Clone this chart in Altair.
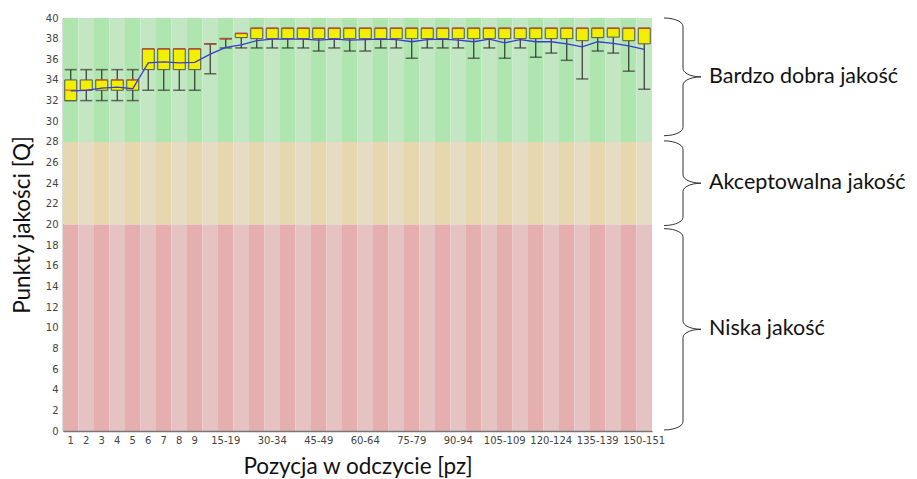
import altair as alt
import pandas as pd
import numpy as np

# ---- data ----
positions = ["1", "2", "3", "4", "5", "6", "7", "8", "9",
             "10-14", "15-19", "20-24", "25-29", "30-34", "35-39", "40-44",
             "45-49", "50-54", "55-59", "60-64", "65-69", "70-74", "75-79",
             "80-84", "85-89", "90-94", "95-99", "100-104", "105-109",
             "110-114", "115-119", "120-124", "125-129", "130-134",
             "135-139", "140-144", "145-149", "150-151"]
shown_labels = ["1", "2", "3", "4", "5", "6", "7", "8", "9", "15-19", "30-34",
                "45-49", "60-64", "75-79", "90-94", "105-109", "120-124",
                "135-139", "150-151"]
y_ticks = [0, 2, 4, 6, 8, 10, 12, 14, 16, 18, 20, 22, 24, 26, 28, 30, 32, 34,
           36, 38, 40]

q1 = [32, 33, 33, 33, 33, 35, 35, 35, 35, 37.5, 38, 38.1,
      38, 38, 38, 38, 38, 38, 38, 38, 38, 38, 38, 38, 38, 38, 38, 38, 38,
      38, 38, 38, 38, 37.8, 38.1, 38.15, 37.8, 37.5]
q3 = [34, 34, 34, 34, 34, 37, 37, 37, 37, 37.5, 38, 38.5,
      39, 39, 39, 39, 39, 39, 39, 39, 39, 39, 39, 39, 39, 39, 39, 39, 39,
      39, 39, 39, 39, 39, 39, 39, 39, 39]
median = [33, 33, 34, 34, 34, 37, 37, 37, 37, 37.5, 38, 38.5,
          39, 39, 39, 39, 39, 39, 39, 39, 39, 39, 39, 39, 39, 39, 39, 39, 39,
          39, 39, 39, 39, 39, 39, 39, 39, 39]
p10 = [32, 32, 32, 32, 32, 33, 33, 33, 33, 34.6, 37.1, 37.1,
       37.1, 37.1, 37.1, 37.1, 36.8, 37.1, 36.8, 36.8, 37.1, 37.1, 36.1,
       37.1, 37.1, 37.1, 36.1, 37.1, 36.1, 37.1, 36.2, 36.6, 35.9, 34.1,
       36.8, 36.6, 34.85, 33.1]
p90 = [35, 35, 35, 35, 35, 37, 37, 37, 37, 37.5, 38, 38.5,
       39, 39, 39, 39, 39, 39, 39, 39, 39, 39, 39, 39, 39, 39, 39, 39, 39,
       39, 39, 39, 39, 39, 39, 39, 39, 39]
mean = [32.95, 33.0, 33.2, 33.3, 33.15, 35.65, 35.75, 35.65, 35.7, 36.5,
        37.15, 37.4, 37.8, 37.95, 37.95, 37.95, 37.85, 37.95, 37.85, 37.9,
        37.95, 37.9, 37.7, 37.9, 37.95, 37.85, 37.7, 37.95, 37.6, 37.9,
        37.7, 37.7, 37.5, 37.2, 37.7, 37.55, 37.3, 36.95]

zone_names = ["good", "bad", "ugly"]
zone_low = [28, 20, 0]
zone_high = [40, 28, 20]
zone_colors = {"good_dark": "#AFE6AF", "good_light": "#C3E6C3",
               "bad_dark": "#E6D7AF", "bad_light": "#E6DCC3",
               "ugly_dark": "#E6AFAF", "ugly_light": "#E6C3C3"}

brace_labels = ["Bardzo dobra jakość", "Akceptowalna jakość", "Niska jakość"]
brace_top = [40, 28.1, 19.6]
brace_bottom = [28.6, 19.9, 0.1]

# ---- tables ----
stats = pd.DataFrame({"pos": positions, "q1": q1, "q3": q3, "median": median,
                      "p10": p10, "p90": p90, "mean": mean})

bg_rows = []
for i, p in enumerate(positions):
    for z, lo, hi in zip(zone_names, zone_low, zone_high):
        bg_rows.append({"pos": p, "lo": lo, "hi": hi,
                        "key": z + ("_dark" if i % 2 == 0 else "_light")})
bg = pd.DataFrame(bg_rows)

# brace outlines (pixel x, data y)
X0, X1, X2 = 601, 620, 638
RY = 0.8
brace_rows = []
t = np.linspace(0, np.pi / 2, 8)
for b, (top, bot) in enumerate(zip(brace_top, brace_bottom)):
    mid = (top + bot) / 2
    pts = []
    pts += [(X0 + (X1 - X0) * np.sin(a), top - RY * (1 - np.cos(a))) for a in t]
    pts += [(X1 + (X2 - X1) * (1 - np.cos(a)), mid + RY * (1 - np.sin(a))) for a in t]
    pts += [(X1 + (X2 - X1) * (1 - np.cos(a)), mid - RY * (1 - np.sin(a))) for a in t[::-1]]
    pts += [(X0 + (X1 - X0) * np.sin(a), bot + RY * (1 - np.cos(a))) for a in t[::-1]]
    for k, (px, py) in enumerate(pts):
        brace_rows.append({"bid": b, "seq": k, "px": px, "py": py})
braces = pd.DataFrame(brace_rows)

label_df = pd.DataFrame({"label": brace_labels,
                         "y": [(a + b) / 2 for a, b in zip(brace_top, brace_bottom)],
                         "px": [646] * 3})

# ---- chart ----
xscale = alt.Scale(domain=positions, paddingInner=0, paddingOuter=0)
yscale = alt.Scale(domain=[0, 40], nice=False)

xaxis = alt.Axis(values=shown_labels, labelAngle=0, ticks=False,
                 labelOverlap=False,
                 labelFont="DejaVu Sans", labelFontSize=10,
                 labelColor="#444", labelPadding=4,
                 domainColor="#777", domainWidth=1.5,
                 title="Pozycja w odczycie [pz]", titleFont="Lato",
                 titleFontSize=22.5, titleFontWeight="normal",
                 titleColor="#111", titlePadding=10)
yaxis = alt.Axis(values=y_ticks, tickCount=21, ticks=False, grid=False,
                 labelOverlap=False,
                 labelFont="DejaVu Sans", labelFontSize=10,
                 labelColor="#444", labelPadding=5,
                 domainColor="#777", domainWidth=1.5,
                 title="Punkty jakości [Q]", titleFont="Lato",
                 titleFontSize=22.5, titleFontWeight="normal",
                 titleColor="#111", titlePadding=11)


def X():
    return alt.X("pos:N", scale=xscale, sort=positions, axis=xaxis)


def Y(field):
    return alt.Y(field, scale=yscale, axis=yaxis)


background = alt.Chart(bg).mark_rect().encode(
    x=X(),
    y=Y("lo:Q"),
    y2="hi:Q",
    color=alt.Color("key:N", scale=alt.Scale(domain=list(zone_colors.keys()),
                                             range=list(zone_colors.values())),
                    legend=None),
)

base = alt.Chart(stats)
whisker = base.mark_rule(color="#333", strokeWidth=1.2).encode(
    x=X(), y=Y("p10:Q"), y2="p90:Q")
cap_low = base.mark_tick(color="#333", size=12, thickness=1.5).encode(
    x=X(), y=Y("p10:Q"))
cap_high = base.mark_tick(color="#333", size=12, thickness=1.5).encode(
    x=X(), y=Y("p90:Q"))
box = base.mark_bar(size=12, color="#F0F000", stroke="#555",
                    strokeWidth=1).encode(
    x=X(), y=Y("q1:Q"), y2="q3:Q")
med = base.mark_tick(color="#E0452A", size=12, thickness=1.5).encode(
    x=X(), y=Y("median:Q"))
mean_line = base.mark_line(color="#3B3BD0", strokeWidth=1.3).encode(
    x=X(), y=Y("mean:Q"))

brace_layer = alt.Chart(braces).mark_line(color="#333", strokeWidth=1).encode(
    x=alt.X("px:Q", scale=None, axis=None),
    y=Y("py:Q"),
    detail="bid:N",
    order="seq:Q",
)
text_layer = alt.Chart(label_df).mark_text(
    align="left", baseline="middle", font="Lato", fontSize=21.5, color="#111"
).encode(
    x=alt.X("px:Q", scale=None, axis=None),
    y=Y("y:Q"),
    text="label:N",
)

chart = alt.layer(background, whisker, cap_low, cap_high, box, med, mean_line,
                  brace_layer, text_layer).properties(
    width=589, height=413,
    autosize=alt.AutoSizeParams(type="none"),
    padding={"left": 63, "top": 18, "right": 265, "bottom": 48},
    background="white",
).configure_view(strokeWidth=0)

chart.save("out.html", embed_options={"renderer": "svg", "actions": False})
